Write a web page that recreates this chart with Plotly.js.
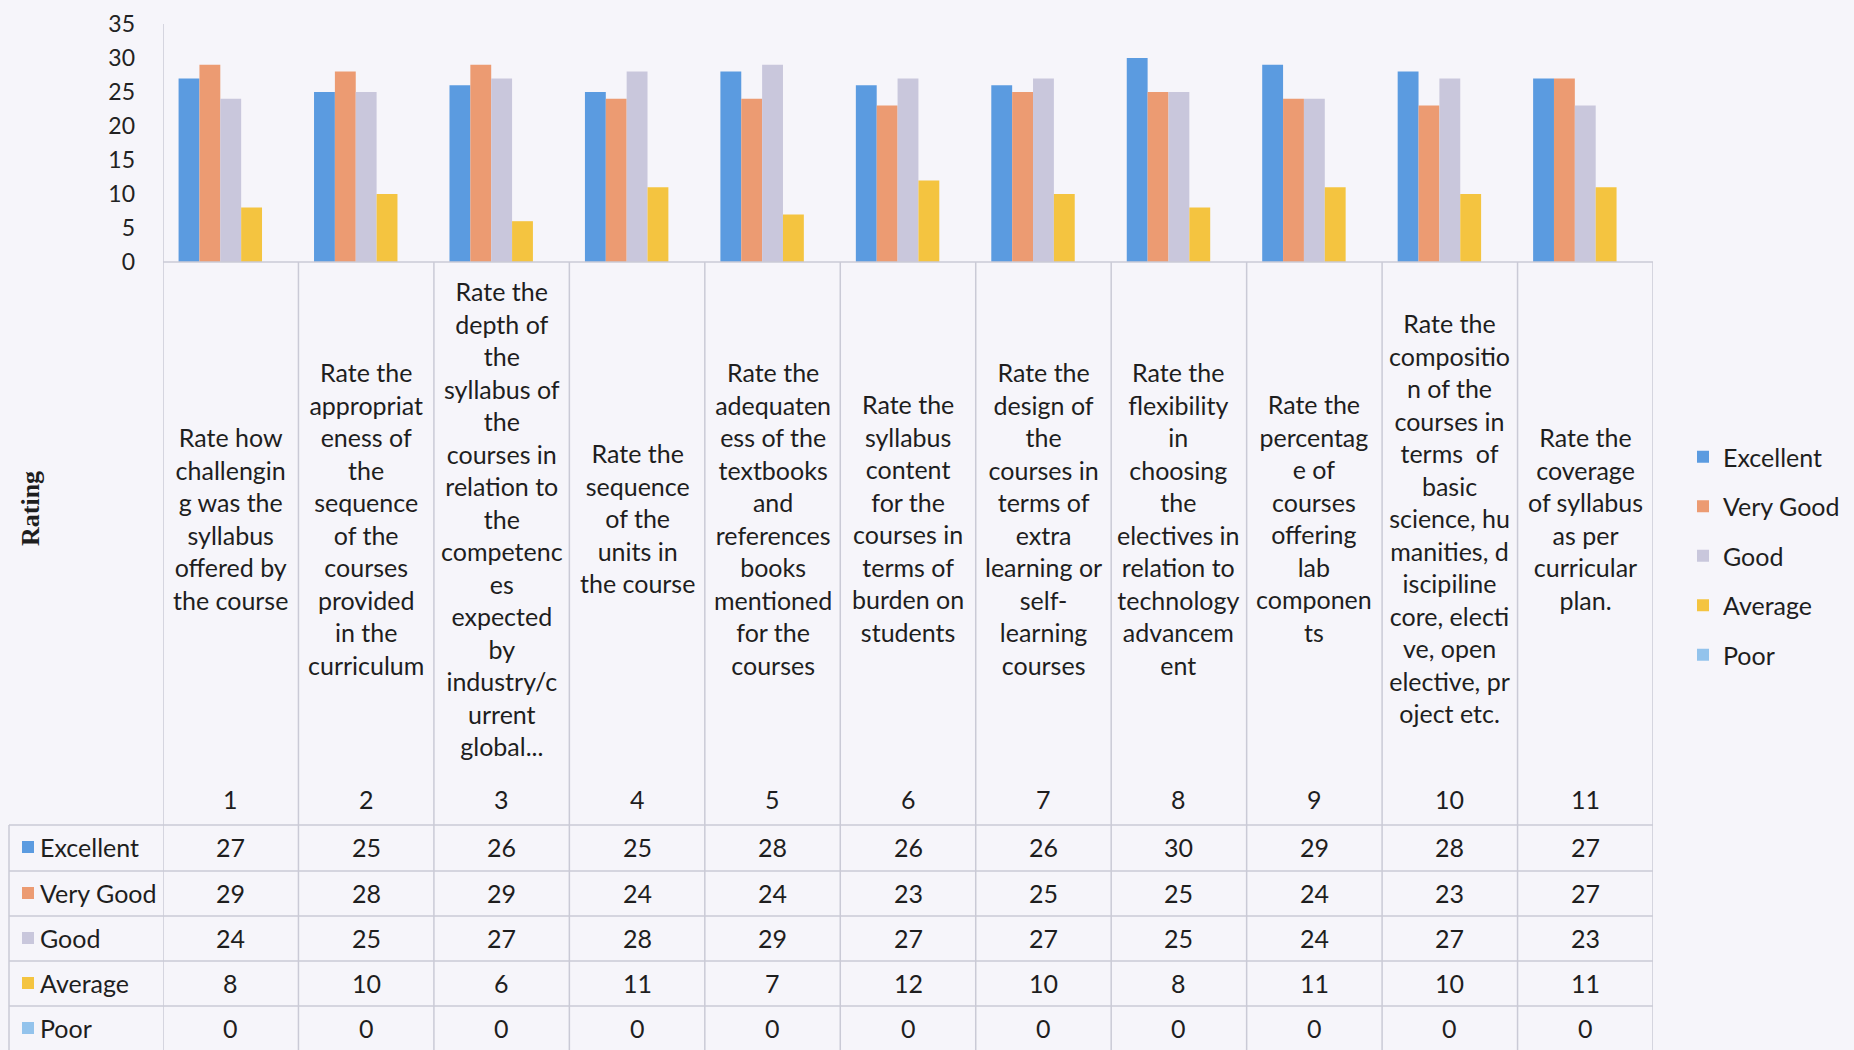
<!DOCTYPE html>
<html>
<head>
<meta charset="utf-8">
<script src="https://cdn.plot.ly/plotly-3.0.1.min.js"></script>
<style>
html,body{margin:0;padding:0;background:#f6f5fa;}
#chart{width:1854px;height:1050px;}
</style>
</head>
<body>
<div id="chart"></div>
<script>
// ---- data ----
const questionNumbers = ['1','2','3','4','5','6','7','8','9','10','11'];
const questionLabels = [
  'Rate how<br>challengin<br>g was the<br>syllabus<br>offered by<br>the course',
  'Rate the<br>appropriat<br>eness of<br>the<br>sequence<br>of the<br>courses<br>provided<br>in the<br>curriculum',
  'Rate the<br>depth of<br>the<br>syllabus of<br>the<br>courses in<br>relation to<br>the<br>competenc<br>es<br>expected<br>by<br>industry/c<br>urrent<br>global...',
  'Rate the<br>sequence<br>of the<br>units in<br>the course',
  'Rate the<br>adequaten<br>ess of the<br>textbooks<br>and<br>references<br>books<br>mentioned<br>for the<br>courses',
  'Rate the<br>syllabus<br>content<br>for the<br>courses in<br>terms of<br>burden on<br>students',
  'Rate the<br>design of<br>the<br>courses in<br>terms of<br>extra<br>learning or<br>self-<br>learning<br>courses',
  'Rate the<br>flexibility<br>in<br>choosing<br>the<br>electives in<br>relation to<br>technology<br>advancem<br>ent',
  'Rate the<br>percentag<br>e of<br>courses<br>offering<br>lab<br>componen<br>ts',
  'Rate the<br>compositio<br>n of the<br>courses in<br>terms&nbsp; of<br>basic<br>science, hu<br>manities, d<br>iscipiline<br>core, electi<br>ve, open<br>elective, pr<br>oject etc.',
  'Rate the<br>coverage<br>of syllabus<br>as per<br>curricular<br>plan.'
];
const seriesNames = ['Excellent','Very Good','Good','Average','Poor'];
const excellent = [27,25,26,25,28,26,26,30,29,28,27];
const veryGood  = [29,28,29,24,24,23,25,25,24,23,27];
const good      = [24,25,27,28,29,27,27,25,24,27,23];
const average   = [8,10,6,11,7,12,10,8,11,10,11];
const poor      = [0,0,0,0,0,0,0,0,0,0,0];
const yAxisTitle = 'Rating';

// ---- styling / layout ----
const seriesValues = [excellent, veryGood, good, average, poor];
const seriesColors = ['#5b9be0','#ec9b72','#c9c7dc','#f4c440','#93c3ec'];
const W = 1854, H = 1050;
const plotLeft = 163, plotRight = 1653, plotTop = 24, plotBottom = 262;
const tableLeft = 9;
const labelCenterY = 518;
const numberRowY = 799;
const rowCenters = [847, 893, 938, 983, 1028];
const rowLines = [825, 871, 916, 961, 1006];
const lineColor = '#cacad6';
const textColor = '#1e1e1e';
const FONT = 'Lato, "Noto Sans", sans-serif';
const px = v => v / W;
const py = v => 1 - v / H;
const nCols = questionNumbers.length;

const traces = seriesNames.map((n, i) => ({
  type: 'bar',
  name: n,
  x: questionNumbers,
  y: seriesValues[i],
  marker: {color: seriesColors[i], line: {width: 0}},
  legendgroup: n,
  hoverinfo: 'skip'
}));

const shapes = [];
for (let k = 0; k <= nCols; k++) {
  shapes.push({type: 'line', xref: 'x', yref: 'paper',
    x0: k - 0.5, x1: k - 0.5,
    y0: py(k === 0 ? plotTop : plotBottom), y1: py(H),
    line: {color: lineColor, width: 1.5}});
}
shapes.push({type: 'line', xref: 'x', yref: 'paper', x0: -0.5, x1: nCols - 0.5,
  y0: py(plotBottom), y1: py(plotBottom), line: {color: lineColor, width: 1.5}});
rowLines.forEach(r => shapes.push({type: 'line', xref: 'paper', yref: 'paper',
  x0: px(tableLeft), x1: px(plotRight), y0: py(r), y1: py(r),
  line: {color: lineColor, width: 1.5}}));
shapes.push({type: 'line', xref: 'paper', yref: 'paper', x0: px(tableLeft), x1: px(tableLeft),
  y0: py(rowLines[0]), y1: py(H), line: {color: lineColor, width: 1.5}});
seriesNames.forEach((n, i) => shapes.push({type: 'rect', xref: 'paper', yref: 'paper',
  x0: px(22), x1: px(34), y0: py(rowCenters[i] - 6), y1: py(rowCenters[i] + 6),
  fillcolor: seriesColors[i], line: {width: 0}}));

const annotations = [];
questionLabels.forEach((t, i) => annotations.push({
  xref: 'x', yref: 'paper', x: i, y: py(labelCenterY),
  text: t, showarrow: false, align: 'center', xanchor: 'center', yanchor: 'middle',
  font: {family: FONT, size: 25, color: textColor}}));
questionNumbers.forEach((t, i) => annotations.push({
  xref: 'x', yref: 'paper', x: i, y: py(numberRowY),
  text: t, showarrow: false, xanchor: 'center', yanchor: 'middle',
  font: {family: FONT, size: 25, color: textColor}}));
seriesValues.forEach((vals, s) => {
  vals.forEach((v, i) => annotations.push({
    xref: 'x', yref: 'paper', x: i, y: py(rowCenters[s]),
    text: String(v), showarrow: false, xanchor: 'center', yanchor: 'middle',
    font: {family: FONT, size: 25, color: textColor}}));
  annotations.push({xref: 'paper', yref: 'paper', x: px(38), y: py(rowCenters[s]),
    text: seriesNames[s], showarrow: false, xanchor: 'left', yanchor: 'middle',
    font: {family: FONT, size: 25, color: textColor}});
});
annotations.push({xref: 'paper', yref: 'paper', x: px(30), y: py(508),
  text: '<b>' + yAxisTitle + '</b>', textangle: -90, showarrow: false,
  xanchor: 'center', yanchor: 'middle',
  font: {family: '"Liberation Serif", "DejaVu Serif", serif', size: 26, color: textColor}});

const layout = {
  width: W, height: H,
  margin: {l: 0, r: 0, t: 0, b: 0, pad: 0},
  paper_bgcolor: '#f6f5fa',
  plot_bgcolor: 'rgba(0,0,0,0)',
  barmode: 'group',
  bargap: 0.23,
  bargroupgap: 0,
  xaxis: {type: 'category', domain: [px(plotLeft), px(plotRight)], range: [-0.5, nCols - 0.5],
    showticklabels: false, showgrid: false, zeroline: false, showline: false, ticks: ''},
  yaxis: {domain: [py(plotBottom), py(plotTop)], range: [0, 35], dtick: 5,
    showgrid: false, zeroline: false, showline: false, ticks: '',
    ticklabelstandoff: 27,
    tickfont: {family: FONT, size: 23, color: '#222'}},
  showlegend: true,
  legend: {x: px(1683), xanchor: 'left', y: py(556), yanchor: 'middle',
    bgcolor: 'rgba(0,0,0,0)', borderwidth: 0, tracegroupgap: 14, itemwidth: 30,
    traceorder: 'grouped',
    font: {family: FONT, size: 25, color: textColor}},
  shapes: shapes,
  annotations: annotations
};

Plotly.newPlot('chart', traces, layout, {staticPlot: true, displayModeBar: false});
</script>
</body>
</html>
